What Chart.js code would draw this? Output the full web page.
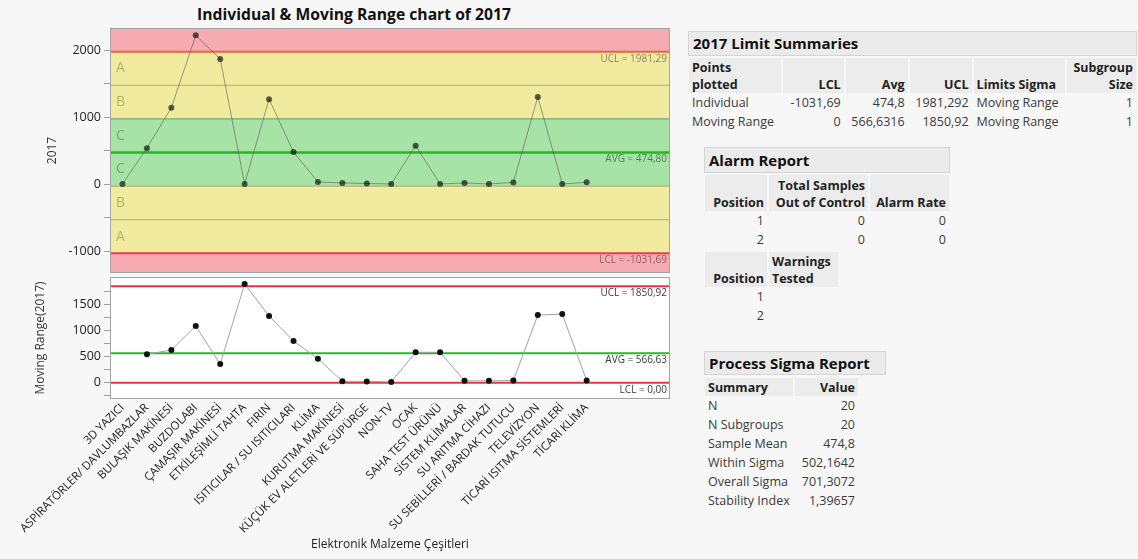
<!DOCTYPE html>
<html lang="tr">
<head>
<meta charset="UTF-8">
<title>Individual &amp; Moving Range chart of 2017</title>
<script src="https://cdn.jsdelivr.net/npm/chart.js"></script>
<style>
  body { margin: 0; background: #f7f7f7; font-family: "Open Sans", "Noto Sans", sans-serif; color: #333; }
  #page { position: relative; width: 1138px; height: 559px; overflow: hidden; }
  #title { position: absolute; left: 0; width: 708px; top: 3px; text-align: center; font-weight: bold; font-size: 15.7px; color: #111; }
  canvas { position: absolute; left: 0; }
  #indChart { top: 0; }
  #mrChart { top: 274px; }
  .hdr { position: absolute; background: #ebebeb; border: 1px solid #d4d4d4; font-weight: bold; font-size: 15px; color: #111; padding-left: 4px; box-sizing: border-box; }
  table.rep { position: absolute; border-collapse: separate; border-spacing: 2px 0; table-layout: fixed; font-size: 12.5px; color: #3a3a3a; }
  table.rep th { background: #ececec; font-weight: bold; color: #222; vertical-align: bottom; padding: 0 3px; line-height: 17px; white-space: nowrap; overflow: hidden; }
  table.rep td { padding: 0 3px; line-height: 19px; height: 19px; white-space: nowrap; }
  .r { text-align: right; }
  .l { text-align: left; }
</style>
</head>
<body>
<div id="page">
  <div id="title">Individual &amp; Moving Range chart of 2017</div>
  <canvas id="indChart" width="680" height="276"></canvas>
  <canvas id="mrChart" width="680" height="285"></canvas>

  <div class="hdr" style="left:688px; top:31px; width:449px; height:25px; line-height:23px;">2017 Limit Summaries</div>
  <table class="rep" style="left:687px; top:58px;">
    <colgroup><col style="width:93px"><col style="width:63px"><col style="width:63px"><col style="width:63px"><col style="width:93px"><col style="width:70px"></colgroup>
    <tr style="height:35px"><th class="l">Points<br>plotted</th><th class="r">LCL</th><th class="r">Avg</th><th class="r">UCL</th><th class="l">Limits Sigma</th><th class="r">Subgroup<br>Size</th></tr>
    <tr><td>Individual</td><td class="r">-1031,69</td><td class="r">474,8</td><td class="r">1981,292</td><td>Moving Range</td><td class="r">1</td></tr>
    <tr><td>Moving Range</td><td class="r">0</td><td class="r">566,6316</td><td class="r">1850,92</td><td>Moving Range</td><td class="r">1</td></tr>
  </table>

  <div class="hdr" style="left:704px; top:147px; width:246px; height:26px; line-height:24px;">Alarm Report</div>
  <table class="rep" style="left:703px; top:175px;">
    <colgroup><col style="width:62px"><col style="width:99px"><col style="width:79px"></colgroup>
    <tr style="height:36px"><th class="r">Position</th><th class="r">Total Samples<br>Out of Control</th><th class="r">Alarm Rate</th></tr>
    <tr><td class="r">1</td><td class="r">0</td><td class="r">0</td></tr>
    <tr><td class="r">2</td><td class="r">0</td><td class="r">0</td></tr>
  </table>
  <table class="rep" style="left:703px; top:252px;">
    <colgroup><col style="width:62px"><col style="width:69px"></colgroup>
    <tr style="height:35px"><th class="r">Position</th><th class="l">Warnings<br>Tested</th></tr>
    <tr><td class="r">1</td><td></td></tr>
    <tr><td class="r">2</td><td></td></tr>
  </table>

  <div class="hdr" style="left:704px; top:351px; width:182px; height:24px; line-height:22px;">Process Sigma Report</div>
  <table class="rep" style="left:703px; top:378px;">
    <colgroup><col style="width:88px"><col style="width:63px"></colgroup>
    <tr style="height:18px"><th class="l">Summary</th><th class="r">Value</th></tr>
    <tr><td>N</td><td class="r">20</td></tr>
    <tr><td>N Subgroups</td><td class="r">20</td></tr>
    <tr><td>Sample Mean</td><td class="r">474,8</td></tr>
    <tr><td>Within Sigma</td><td class="r">502,1642</td></tr>
    <tr><td>Overall Sigma</td><td class="r">701,3072</td></tr>
    <tr><td>Stability Index</td><td class="r">1,39657</td></tr>
  </table>
</div>

<script>
// categories on the x axis
const categories = [
  "3D YAZICI", "ASPİRATÖRLER/ DAVLUMBAZLAR", "BULAŞIK MAKİNESİ", "BUZDOLABI",
  "ÇAMAŞIR MAKİNESİ", "ETKİLEŞİMLİ TAHTA", "FIRIN", "ISITICILAR / SU ISITICILARI",
  "KLİMA", "KURUTMA MAKİNESİ", "KÜÇÜK EV ALETLERİ VE SÜPÜRGE", "NON-TV", "OCAK",
  "SAHA TEST ÜRÜNÜ", "SİSTEM KLİMALAR", "SU ARITMA CİHAZI", "SU SEBİLLERİ / BARDAK TUTUCU",
  "TELEVİZYON", "TİCARİ ISITMA SİSTEMLERİ", "TİCARİ KLİMA"
];

// values
const individualValues = [5, 540, 1145, 2225, 1870, 5, 1272, 482, 35, 20, 12, 5, 577, 5, 20, 5, 28, 1306, 5, 30];
const movingRanges = [null, 548, 630, 1092, 360, 1895, 1282, 802, 462, 30, 28, 18, 586, 586, 40, 40, 45, 1300, 1318, 45];

// LCL, AVG, UCL
const individualLimits = [-1031.69, 474.80, 1981.29];
const mrLimits = [0.00, 566.63, 1850.92];

// y ticks (marks) and the ones that carry a label
const indTicks = [-1000, -500, 0, 500, 1000, 1500, 2000];
const indTickLabels = [-1000, 0, 1000, 2000];
const mrTicks = [-250, 0, 250, 500, 750, 1000, 1250, 1500, 1750];
const mrTickLabels = [0, 500, 1000, 1500];

const xMin = -0.47, xMax = 22.37;
const font = "'Open Sans', 'Noto Sans', sans-serif";

function fmt(v) { return v.toFixed(2).replace('.', ','); }

function hline(ctx, area, y, color, width) {
  ctx.strokeStyle = color;
  ctx.lineWidth = width;
  ctx.beginPath();
  ctx.moveTo(area.left, y);
  ctx.lineTo(area.right, y);
  ctx.stroke();
}

function limitLabel(ctx, area, y, text, color) {
  ctx.font = "10px " + font;
  ctx.fillStyle = color;
  ctx.textAlign = "right";
  ctx.textBaseline = "top";
  ctx.fillText(text, area.right - 2, y + 2);
}

const zonePlugin = {
  id: "zones",
  beforeDatasetsDraw(chart) {
    const {ctx, chartArea: a, scales: {y}} = chart;
    const [lcl, avg, ucl] = individualLimits;
    const s = (ucl - avg) / 3;
    const py = v => y.getPixelForValue(v);
    ctx.save();
    ctx.beginPath();
    ctx.rect(a.left, a.top, a.width, a.height);
    ctx.clip();
    const band = (from, to, color) => {
      ctx.fillStyle = color;
      ctx.fillRect(a.left, py(from), a.width, py(to) - py(from));
    };
    band(y.max, ucl, "#f6abb2");
    band(ucl, avg + s, "#f0eb9f");
    band(avg + s, avg - s, "#a7e3a7");
    band(avg - s, lcl, "#f0eb9f");
    band(lcl, y.min, "#f6abb2");

    hline(ctx, a, py(avg + 2 * s), "#b5ad6e", 1);
    hline(ctx, a, py(avg - 2 * s), "#b5ad6e", 1);
    hline(ctx, a, py(avg + s), "#5f9a5f", 1);
    hline(ctx, a, py(avg - s), "#a9a56a", 1);
    hline(ctx, a, py(ucl), "#f0603e", 2);
    hline(ctx, a, py(lcl), "#ec3b4c", 2);
    hline(ctx, a, py(avg), "#27b527", 2.5);

    // zone letters
    ctx.font = "14px " + font;
    ctx.textAlign = "left";
    ctx.textBaseline = "middle";
    const letters = [["A", avg + 2.5 * s, "rgba(120,110,20,0.45)"], ["B", avg + 1.5 * s, "rgba(120,110,20,0.45)"],
                     ["C", avg + 0.5 * s, "rgba(40,110,40,0.45)"], ["C", avg - 0.5 * s, "rgba(40,110,40,0.45)"],
                     ["B", avg - 1.5 * s, "rgba(120,110,20,0.45)"], ["A", avg - 2.5 * s, "rgba(120,110,20,0.45)"]];
    letters.forEach(([t, v, c]) => { ctx.fillStyle = c; ctx.fillText(t, a.left + 5, py(v)); });

    limitLabel(ctx, a, py(ucl), "UCL = " + fmt(ucl), "rgba(60,50,20,0.55)");
    limitLabel(ctx, a, py(avg), "AVG = " + fmt(avg), "rgba(20,60,20,0.6)");
    limitLabel(ctx, a, py(lcl), "LCL = " + fmt(lcl), "rgba(70,20,30,0.55)");
    ctx.restore();
  },
  afterDraw(chart) {
    const {ctx, chartArea: a} = chart;
    ctx.save();
    ctx.strokeStyle = "#a3a3a3";
    ctx.lineWidth = 1;
    ctx.strokeRect(a.left - 0.5, a.top - 0.5, a.width + 1, a.height + 1);
    ctx.restore();
  }
};

const mrPlugin = {
  id: "mrLimits",
  beforeDatasetsDraw(chart) {
    const {ctx, chartArea: a, scales: {y}} = chart;
    const [lcl, avg, ucl] = mrLimits;
    const py = v => y.getPixelForValue(v);
    ctx.save();
    ctx.fillStyle = "#ffffff";
    ctx.fillRect(a.left, a.top, a.width, a.height);
    hline(ctx, a, py(ucl), "#ee3048", 2);
    hline(ctx, a, py(lcl), "#ee3048", 2);
    hline(ctx, a, py(avg), "#2cb42c", 2);
    limitLabel(ctx, a, py(ucl), "UCL = " + fmt(ucl), "#3a3a3a");
    limitLabel(ctx, a, py(avg), "AVG = " + fmt(avg), "#3a3a3a");
    limitLabel(ctx, a, py(lcl), "LCL = " + fmt(lcl), "#3a3a3a");
    ctx.restore();
  },
  afterDraw: zonePlugin.afterDraw
};

function yAxis(min, max, tickValues, labelValues, title, titlePad) {
  return {
    min: min, max: max,
    afterBuildTicks(scale) { scale.ticks = tickValues.map(v => ({ value: v })); },
    afterFit(scale) {
      scale.width = 111;
      scale.paddingTop = 0;
      scale.paddingBottom = 0;
    },
    ticks: {
      color: "#222",
      font: { family: font, size: 12.5 },
      padding: 3,
      autoSkip: false,
      callback: v => labelValues.includes(v) ? String(v) : ""
    },
    grid: { drawOnChartArea: false, drawTicks: true, tickLength: 7, color: "#a0a0a0" },
    border: { display: false },
    title: { display: true, text: title, color: "#333", font: { family: font, size: 12 }, padding: { top: titlePad, bottom: 0 } }
  };
}

Chart.defaults.font.family = font;

new Chart(document.getElementById("indChart"), {
  type: "line",
  data: {
    datasets: [{
      data: individualValues.map((v, i) => ({ x: i, y: v })),
      borderColor: "rgba(80,80,70,0.55)",
      borderWidth: 1,
      pointRadius: 3,
      pointBackgroundColor: "rgba(0,0,0,0.62)",
      pointBorderWidth: 0,
      tension: 0
    }]
  },
  options: {
    responsive: false,
    animation: false,
    layout: { padding: { top: 29, right: 11, bottom: 0, left: 0 } },
    plugins: { legend: { display: false }, tooltip: { enabled: false } },
    scales: {
      x: { type: "linear", min: xMin, max: xMax, display: false },
      y: yAxis(-1310, 2320, indTicks, indTickLabels, "2017", 45)
    }
  },
  plugins: [zonePlugin]
});

new Chart(document.getElementById("mrChart"), {
  type: "line",
  data: {
    datasets: [{
      data: movingRanges.map((v, i) => ({ x: i, y: v })).filter(p => p.y !== null),
      borderColor: "#a3a3a3",
      borderWidth: 1,
      pointRadius: 3,
      pointBackgroundColor: "#111",
      pointBorderWidth: 0,
      tension: 0
    }]
  },
  options: {
    responsive: false,
    animation: false,
    layout: { padding: { top: 1.5, right: 11, bottom: 0, left: 0 } },
    plugins: { legend: { display: false }, tooltip: { enabled: false } },
    scales: {
      x: {
        type: "linear", min: xMin, max: xMax,
        afterBuildTicks(scale) { scale.ticks = categories.map((c, i) => ({ value: i })); },
        afterFit(scale) {
          scale.height = 161;
          scale.paddingLeft = 0;
          scale.paddingRight = 0;
        },
        ticks: {
          autoSkip: false, minRotation: 45, maxRotation: 45, padding: 3,
          color: "#222", font: { family: font, size: 11.5 },
          callback: v => categories[v] || ""
        },
        grid: { display: false, drawTicks: false },
        border: { display: false },
        title: { display: true, text: "Elektronik Malzeme Çeşitleri", color: "#222", font: { family: font, size: 12 }, padding: { top: 0, bottom: 7 } }
      },
      y: yAxis(-290, 2010, mrTicks, mrTickLabels, "Moving Range(2017)", 33)
    }
  },
  plugins: [mrPlugin]
});
</script>
</body>
</html>
